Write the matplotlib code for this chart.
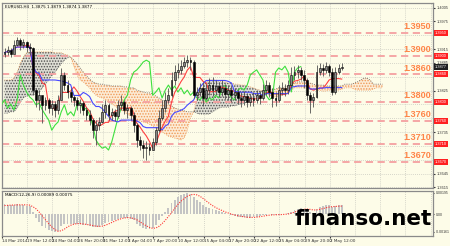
import numpy as np
import pandas as pd
import matplotlib
matplotlib.use("Agg")
import matplotlib.pyplot as plt
import matplotlib.transforms as mtransforms

# EURUSD H4, each entry below is one candle
close = [1.3909, 1.3913, 1.3904, 1.3924, 1.3935, 1.3924, 1.3930, 1.3920, 1.3917, 1.3826,
         1.3805, 1.3815, 1.3794, 1.3805, 1.3787, 1.3796, 1.3783, 1.3805, 1.3859, 1.3837,
         1.3822, 1.3811, 1.3805, 1.3794, 1.3798, 1.3783, 1.3772, 1.3761, 1.3739, 1.3750,
         1.3757, 1.3779, 1.3794, 1.3772, 1.3779, 1.3770, 1.3794, 1.3800, 1.3783, 1.3787,
         1.3772, 1.3750, 1.3718, 1.3707, 1.3700, 1.3703, 1.3696, 1.3713, 1.3739, 1.3766,
         1.3787, 1.3805, 1.3815, 1.3848, 1.3865, 1.3870, 1.3878, 1.3887, 1.3891, 1.3887,
         1.3815, 1.3822, 1.3831, 1.3809, 1.3826, 1.3837, 1.3826, 1.3835, 1.3822, 1.3831,
         1.3818, 1.3826, 1.3815, 1.3822, 1.3809, 1.3805, 1.3813, 1.3800, 1.3809, 1.3805,
         1.3815, 1.3809, 1.3826, 1.3837, 1.3822, 1.3809, 1.3805, 1.3826, 1.3831, 1.3826,
         1.3837, 1.3859, 1.3865, 1.3870, 1.3859, 1.3848, 1.3815, 1.3805, 1.3811, 1.3865,
         1.3874, 1.3870, 1.3878, 1.3865, 1.3822, 1.3865, 1.3874, 1.3877]
high = [1.3917, 1.3922, 1.3917, 1.3935, 1.3941, 1.3939, 1.3937, 1.3933, 1.3928, 1.3920,
        1.3831, 1.3826, 1.3813, 1.3811, 1.3809, 1.3805, 1.3802, 1.3815, 1.3874, 1.3865,
        1.3848, 1.3831, 1.3815, 1.3811, 1.3807, 1.3802, 1.3789, 1.3783, 1.3766, 1.3761,
        1.3768, 1.3796, 1.3805, 1.3798, 1.3787, 1.3785, 1.3805, 1.3815, 1.3805, 1.3796,
        1.3792, 1.3779, 1.3755, 1.3726, 1.3718, 1.3716, 1.3711, 1.3722, 1.3746, 1.3783,
        1.3805, 1.3822, 1.3831, 1.3865, 1.3881, 1.3885, 1.3891, 1.3898, 1.3902, 1.3898,
        1.3891, 1.3833, 1.3841, 1.3844, 1.3839, 1.3852, 1.3854, 1.3848, 1.3844, 1.3848,
        1.3839, 1.3837, 1.3835, 1.3831, 1.3828, 1.3822, 1.3824, 1.3820, 1.3818, 1.3822,
        1.3826, 1.3824, 1.3839, 1.3848, 1.3844, 1.3831, 1.3822, 1.3837, 1.3844, 1.3839,
        1.3848, 1.3876, 1.3878, 1.3881, 1.3876, 1.3870, 1.3852, 1.3822, 1.3820, 1.3881,
        1.3885, 1.3883, 1.3887, 1.3883, 1.3874, 1.3876, 1.3883, 1.3885]
low = [1.3898, 1.3902, 1.3898, 1.3907, 1.3922, 1.3913, 1.3917, 1.3909, 1.3902, 1.3815,
       1.3789, 1.3783, 1.3755, 1.3783, 1.3776, 1.3772, 1.3768, 1.3774, 1.3805, 1.3826,
       1.3809, 1.3800, 1.3792, 1.3783, 1.3776, 1.3772, 1.3761, 1.3750, 1.3722, 1.3707,
       1.3739, 1.3755, 1.3766, 1.3761, 1.3761, 1.3759, 1.3766, 1.3783, 1.3774, 1.3766,
       1.3761, 1.3735, 1.3703, 1.3696, 1.3679, 1.3674, 1.3685, 1.3696, 1.3707, 1.3735,
       1.3761, 1.3779, 1.3798, 1.3811, 1.3837, 1.3852, 1.3861, 1.3874, 1.3876, 1.3870,
       1.3809, 1.3805, 1.3813, 1.3792, 1.3805, 1.3815, 1.3813, 1.3818, 1.3811, 1.3813,
       1.3807, 1.3805, 1.3800, 1.3805, 1.3796, 1.3789, 1.3794, 1.3789, 1.3792, 1.3792,
       1.3798, 1.3796, 1.3805, 1.3815, 1.3811, 1.3789, 1.3792, 1.3800, 1.3815, 1.3813,
       1.3818, 1.3831, 1.3848, 1.3852, 1.3848, 1.3831, 1.3805, 1.3776, 1.3789, 1.3809,
       1.3859, 1.3857, 1.3863, 1.3857, 1.3815, 1.3818, 1.3861, 1.3870]
first_open = 1.3905

# Ichimoku cloud edges as drawn (already shifted forward, runs 13 candles past the last bar)
span_a = [1.3848, 1.3848, 1.3848, 1.3852, 1.3865, 1.3883, 1.3898, 1.3907, 1.3909, 1.3909,
          1.3909, 1.3909, 1.3909, 1.3909, 1.3909, 1.3909, 1.3907, 1.3907, 1.3907, 1.3904,
          1.3902, 1.3898, 1.3878, 1.3859, 1.3848, 1.3844, 1.3837, 1.3831, 1.3822, 1.3815,
          1.3811, 1.3809, 1.3805, 1.3800, 1.3796, 1.3792, 1.3787, 1.3783, 1.3779, 1.3774,
          1.3770, 1.3766, 1.3761, 1.3759, 1.3757, 1.3755, 1.3752, 1.3748, 1.3744, 1.3739,
          1.3735, 1.3731, 1.3726, 1.3724, 1.3722, 1.3720, 1.3718, 1.3722, 1.3739, 1.3766,
          1.3779, 1.3805, 1.3822, 1.3835, 1.3844, 1.3848, 1.3848, 1.3848, 1.3846, 1.3844,
          1.3844, 1.3841, 1.3841, 1.3839, 1.3839, 1.3837, 1.3837, 1.3835, 1.3833, 1.3831,
          1.3828, 1.3826, 1.3824, 1.3820, 1.3815, 1.3813, 1.3811, 1.3813, 1.3815, 1.3818,
          1.3822, 1.3826, 1.3831, 1.3831, 1.3831, 1.3831, 1.3831, 1.3828, 1.3826, 1.3826,
          1.3826, 1.3824, 1.3824, 1.3826, 1.3826, 1.3826, 1.3826, 1.3828, 1.3831, 1.3831,
          1.3831, 1.3828, 1.3826, 1.3826, 1.3826, 1.3826, 1.3826, 1.3828, 1.3831, 1.3831, 1.3831]
span_b = [1.3776, 1.3776, 1.3779, 1.3779, 1.3787, 1.3800, 1.3809, 1.3813, 1.3815, 1.3815,
          1.3818, 1.3822, 1.3831, 1.3839, 1.3848, 1.3857, 1.3865, 1.3874, 1.3883, 1.3891,
          1.3896, 1.3898, 1.3891, 1.3883, 1.3874, 1.3865, 1.3857, 1.3850, 1.3844, 1.3841,
          1.3839, 1.3839, 1.3837, 1.3837, 1.3835, 1.3835, 1.3835, 1.3835, 1.3833, 1.3833,
          1.3831, 1.3831, 1.3826, 1.3824, 1.3822, 1.3820, 1.3820, 1.3818, 1.3813, 1.3809,
          1.3805, 1.3800, 1.3796, 1.3792, 1.3787, 1.3785, 1.3783, 1.3781, 1.3779, 1.3779,
          1.3779, 1.3776, 1.3774, 1.3774, 1.3774, 1.3774, 1.3779, 1.3783, 1.3787, 1.3789,
          1.3789, 1.3789, 1.3792, 1.3792, 1.3794, 1.3796, 1.3798, 1.3800, 1.3805, 1.3809,
          1.3813, 1.3820, 1.3824, 1.3826, 1.3826, 1.3828, 1.3828, 1.3831, 1.3831, 1.3833,
          1.3835, 1.3839, 1.3841, 1.3844, 1.3844, 1.3844, 1.3841, 1.3841, 1.3839, 1.3837,
          1.3837, 1.3837, 1.3835, 1.3835, 1.3835, 1.3835, 1.3835, 1.3835, 1.3839, 1.3839,
          1.3839, 1.3841, 1.3844, 1.3848, 1.3852, 1.3852, 1.3848, 1.3839, 1.3839, 1.3839, 1.3839]

# MACD panel, main line (grey histogram) and signal (red dots)
macd_main = [0.00090, 0.00088, 0.00082, 0.00085, 0.00090, 0.00088, 0.00085, 0.00080, 0.00072, 0.00020,
             -0.00035, -0.00070, -0.00105, -0.00125, -0.00145, -0.00155, -0.00160, -0.00150, -0.00105, -0.00090,
             -0.00085, -0.00085, -0.00088, -0.00090, -0.00090, -0.00095, -0.00100, -0.00105, -0.00115, -0.00118,
             -0.00112, -0.00095, -0.00075, -0.00070, -0.00060, -0.00055, -0.00040, -0.00030, -0.00030, -0.00030,
             -0.00040, -0.00055, -0.00085, -0.00110, -0.00125, -0.00132, -0.00135, -0.00125, -0.00095, -0.00055,
             -0.00015, 0.00025, 0.00060, 0.00100, 0.00130, 0.00155, 0.00175, 0.00188, 0.00195, 0.00190,
             0.00160, 0.00130, 0.00110, 0.00085, 0.00070, 0.00060, 0.00050, 0.00040, 0.00030, 0.00020,
             0.00010, 0.00000, -0.00010, -0.00015, -0.00020, -0.00025, -0.00028, -0.00030, -0.00030, -0.00028,
             -0.00022, -0.00018, -0.00010, -0.00002, 0.00000, -0.00005, -0.00008, -0.00005, 0.00000, 0.00002,
             0.00008, 0.00025, 0.00040, 0.00052, 0.00055, 0.00050, 0.00035, 0.00020, 0.00015, 0.00045,
             0.00065, 0.00075, 0.00085, 0.00085, 0.00070, 0.00078, 0.00085, 0.00089]
macd_signal = [0.00080, 0.00082, 0.00084, 0.00085, 0.00086, 0.00087, 0.00087, 0.00086, 0.00084, 0.00070,
               0.00050, 0.00020, -0.00015, -0.00050, -0.00085, -0.00115, -0.00140, -0.00155, -0.00150, -0.00135,
               -0.00115, -0.00100, -0.00090, -0.00085, -0.00085, -0.00088, -0.00092, -0.00097, -0.00102, -0.00108,
               -0.00110, -0.00108, -0.00100, -0.00088, -0.00075, -0.00062, -0.00050, -0.00040, -0.00033, -0.00030,
               -0.00032, -0.00038, -0.00050, -0.00068, -0.00088, -0.00105, -0.00120, -0.00128, -0.00125, -0.00110,
               -0.00085, -0.00055, -0.00020, 0.00015, 0.00055, 0.00090, 0.00120, 0.00145, 0.00165, 0.00178,
               0.00182, 0.00178, 0.00165, 0.00145, 0.00122, 0.00100, 0.00080, 0.00062, 0.00048, 0.00035,
               0.00022, 0.00012, 0.00002, -0.00006, -0.00012, -0.00018, -0.00023, -0.00026, -0.00028, -0.00028,
               -0.00026, -0.00022, -0.00017, -0.00012, -0.00008, -0.00005, -0.00004, -0.00003, -0.00002, 0.00000,
               0.00003, 0.00010, 0.00020, 0.00030, 0.00040, 0.00046, 0.00048, 0.00045, 0.00040, 0.00040,
               0.00045, 0.00052, 0.00060, 0.00066, 0.00070, 0.00072, 0.00074, 0.00075]

levels = [1.3950, 1.3900, 1.3860, 1.3800, 1.3760, 1.3710, 1.3670]
price_ticks = [1.4005, 1.3975, 1.3915, 1.3885, 1.3825, 1.3735, 1.3645, 1.3615]
grid_levels = [1.4005, 1.3975, 1.3945, 1.3915, 1.3885, 1.3855, 1.3825, 1.3795,
               1.3765, 1.3735, 1.3705, 1.3675, 1.3645, 1.3615]
last_price = 1.3877
macd_ticks = [0.00195, 0.0, -0.00161]
macd_tick_labels = ["0.00195", "0.00", "-0.00161"]
date_labels = ["14 Mar 2014", "19 Mar 12:00", "24 Mar 04:00", "26 Mar 20:00", "31 Mar 12:00",
               "3 Apr 04:00", "7 Apr 20:00", "10 Apr 12:00", "15 Apr 04:00", "17 Apr 20:00",
               "22 Apr 12:00", "25 Apr 04:00", "29 Apr 20:00", "2 May 12:00"]
header = "EURUSD,H4  1.3875 1.3879 1.3874 1.3877"
macd_header = "MACD(12,26,9) 0.00089 0.00075"

bg = "#fdfce8"
small = "Liberation Sans"
n = len(close)
idx = np.arange(n)
opens = np.array([first_open] + close[:-1])
cl = np.array(close)

# tenkan / kijun from the candles (periods halved: one candle = two H4 bars)
hs, ls = pd.Series(high), pd.Series(low)
tenkan = (hs.rolling(5, min_periods=1).max() + ls.rolling(5, min_periods=1).min()) / 2
kijun = (hs.rolling(13, min_periods=1).max() + ls.rolling(13, min_periods=1).min()) / 2
lag = 13

plt.rcParams['hatch.linewidth'] = 0.7
fig = plt.figure(figsize=(4.5, 2.46), dpi=100)
fig.patch.set_facecolor(bg)
ax = fig.add_axes([2 / 450, 58 / 246, 431 / 450, 185 / 246])
axm = fig.add_axes([2 / 450, 10 / 246, 431 / 450, 45 / 246], sharex=ax)

for a in (ax, axm):
    a.set_facecolor(bg)
    for s in a.spines.values():
        s.set_color("#8a8a8a")
        s.set_linewidth(0.9)

xt = np.arange(len(date_labels)) * 8 - 0.8
ax.set_xlim(-0.47, 135.96)
ax.set_ylim(1.36136, 1.40151)

# grid
for x in np.arange(0, 18) * 8 - 0.8:
    ax.axvline(x, color="#c9c9c0", lw=0.6, ls=(0, (1, 1.5)), zorder=0)
    axm.axvline(x, color="#c9c9c0", lw=0.6, ls=(0, (1, 1.5)), zorder=0)
for g in grid_levels:
    ax.axhline(g, color="#c9c9c0", lw=0.6, ls=(0, (1, 1.5)), zorder=0)

# cloud
sa, sb = np.array(span_a), np.array(span_b)
cx = np.arange(len(sa))
up = sa > sb
ax.fill_between(cx, sa, sb, where=~up, interpolate=True, facecolor="#fcecd6",
                edgecolor="#f09a58", hatch="......", lw=0, zorder=1)
ax.fill_between(cx, sa, sb, where=up, interpolate=True, facecolor="#deded4",
                edgecolor="#505050", hatch="......", lw=0, zorder=1)
ax.plot(cx, sa, color="#f09a58", lw=0.6, ls=":", zorder=2)
ax.plot(cx, sb, color="#606060", lw=0.6, ls=":", zorder=2)

# levels
tr = mtransforms.blended_transform_factory(ax.transAxes, ax.transData)
for lv in levels:
    ax.axhline(lv, color="#f5a0a0", lw=1.3, ls=(0, (4, 2.5)), zorder=2)
    ax.text(0.995, lv + 0.00035, f"{lv:.4f}", transform=tr, ha="right", va="bottom",
            color="#ff8548", fontsize=6.5, fontweight="bold", family=small, zorder=6)
    ax.text(1.004, lv, f"{lv:.4f}", transform=tr, ha="left", va="center", color="white",
            fontsize=2.8, family=small, clip_on=False,
            bbox=dict(boxstyle="square,pad=0.25", fc="#ff2020", ec="none"))
ax.text(1.004, last_price, f"{last_price:.4f}", transform=tr, ha="left", va="center",
        color="white", fontsize=2.8, family=small, clip_on=False,
        bbox=dict(boxstyle="square,pad=0.25", fc="#202020", ec="none"))

# chikou, tenkan, kijun
ax.plot(idx - lag, cl, color="#3ee03e", lw=0.8, zorder=3)
ax.plot(idx, tenkan, color="#ff4040", lw=0.8, zorder=3)
ax.plot(idx, kijun, color="#4848ff", lw=0.8, zorder=3)

# candles
ax.vlines(idx, low, high, color="#505050", lw=0.6, zorder=4)
body = cl - opens
bull = body >= 0
hgt = np.where(np.abs(body) < 0.00006, 0.00006, np.abs(body))
ax.bar(idx[bull], hgt[bull], bottom=opens[bull], width=0.6, color="#8a8a8a",
       edgecolor="black", lw=0.4, zorder=5)
ax.bar(idx[~bull], hgt[~bull], bottom=cl[~bull], width=0.6, color="black",
       edgecolor="black", lw=0.4, zorder=5)

ax.yaxis.tick_right()
ax.set_yticks(price_ticks)
ax.set_yticklabels([f"{p:.4f}" for p in price_ticks], family=small)
ax.tick_params(axis="y", labelsize=2.8, length=1.5, pad=1.2, colors="#333333")
ax.tick_params(axis="x", length=0, labelbottom=False)
ax.text(0.006, 0.99, header, transform=ax.transAxes, fontsize=3, va="top", color="black")

# MACD
axm.bar(idx, macd_main, width=0.6, color="#c4c4c4", zorder=2)
axm.plot(idx, macd_signal, color="#ff3030", lw=0.8, ls=(0, (1, 1.2)), zorder=3)
axm.set_ylim(-0.00198, 0.00213)
axm.yaxis.tick_right()
axm.set_yticks(macd_ticks)
axm.set_yticklabels(macd_tick_labels, family=small)
axm.tick_params(axis="y", labelsize=2.5, length=1, pad=0.8, colors="#333333")
axm.set_xticks(xt)
axm.set_xticklabels(date_labels, ha="left")
axm.tick_params(axis="x", labelsize=3, length=1.5, pad=1, colors="#333333")
axm.text(0.006, 0.96, macd_header, transform=axm.transAxes, fontsize=3, va="top")

fig.text(295 / 450, (246 - 225) / 246, "finanso.net", fontsize=15.5, fontweight="bold",
         family="DejaVu Sans", color="black", va="baseline", ha="left", zorder=10)

fig.savefig("out.png", dpi=100, facecolor=bg)
